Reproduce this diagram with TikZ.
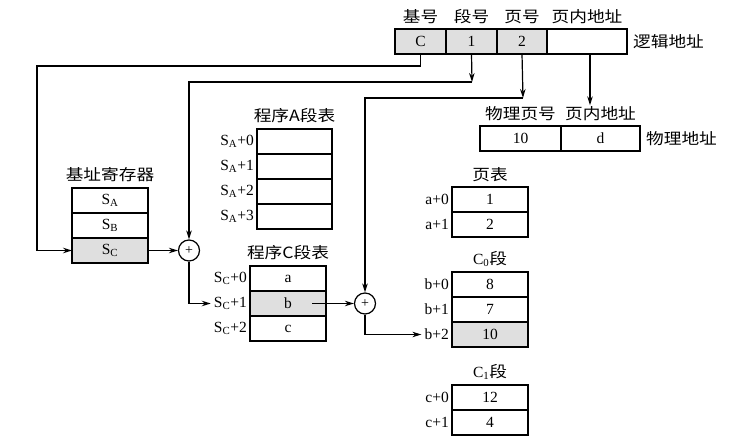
\documentclass[tikz,border=0pt]{standalone}
\usepackage{fontspec}
\setmainfont{Liberation Serif}
\newfontfamily\cjk[FakeStretch=1.14]{Noto Sans CJK SC}
\usetikzlibrary{arrows.meta, positioning}
\tikzset{
  cell/.style = {draw, line width=1.2pt, outer sep=0pt, minimum width=76pt,
                 minimum height=25pt, inner sep=0pt, font=\fontsize{15.5}{15.5}\selectfont},
  grey/.style = {fill=gray!25},
  ttl/.style  = {font=\cjk\fontsize{15.5}{15.5}\selectfont, inner sep=1pt},
  idx/.style  = {font=\fontsize{15.5}{15.5}\selectfont, inner sep=3pt, anchor=east},
  sum/.style  = {draw, circle, line width=1.2pt, minimum size=21pt, inner sep=0pt,
                 font=\fontsize{14}{14}\selectfont},
  fl/.style   = {-{Stealth[length=9pt,width=5.5pt]}, line width=1.2pt},
}
\begin{document}
\begin{tikzpicture}[x=1pt, y=-1pt]
  \useasboundingbox (0,0) rectangle (733,446);
  % logical address
  \node[cell, grey, minimum width=51pt] (lc) at (420.5,41.5) {C};
  \node[cell, grey, minimum width=51pt, right=0pt of lc] (ls) {1};
  \node[cell, grey, minimum width=50pt, right=0pt of ls] (lp) {2};
  \node[cell, minimum width=80pt, right=0pt of lp] (lo) {};
  \node[ttl, above=4pt of lc] (hbase) {基号};
  \node[ttl, above=4pt of ls] (hseg)  {段号};
  \node[ttl, above=4pt of lp] (hpage) {页号};
  \node[ttl, above=4pt of lo] (hoff)  {页内地址};
  \node[ttl, right=5pt of lo] (tlog)  {逻辑地址};
  % base register
  \node[cell] (ra) at (110,200.5) {S\textsubscript{A}};
  \node[cell, below=0pt of ra] (rb) {S\textsubscript{B}};
  \node[cell, grey, below=0pt of rb] (rc) {S\textsubscript{C}};
  \node[ttl, above=5pt of ra] (treg) {基址寄存器};
  % segment table of program A
  \node[cell, minimum width=75pt] (a0) at (294.5,141.5) {};
  \node[cell, minimum width=75pt, below=0pt of a0] (a1) {};
  \node[cell, minimum width=75pt, below=0pt of a1] (a2) {};
  \node[cell, minimum width=75pt, below=0pt of a2] (a3) {};
  \node[ttl, above=5pt of a0] (ta) {程序A段表};
  \node[idx] (ia0) at (a0.west) {S\textsubscript{A}+0};
  \node[idx] (ia1) at (a1.west) {S\textsubscript{A}+1};
  \node[idx] (ia2) at (a2.west) {S\textsubscript{A}+2};
  \node[idx] (ia3) at (a3.west) {S\textsubscript{A}+3};
  % segment table of program C
  \node[cell] (c0) at (288,278.5) {a};
  \node[cell, grey, below=0pt of c0] (c1) {b};
  \node[cell, below=0pt of c1] (c2) {c};
  \node[ttl, above=5pt of c0] (tc) {程序C段表};
  \node[idx] (ic0) at (c0.west) {S\textsubscript{C}+0};
  \node[idx] (ic1) at (c1.west) {S\textsubscript{C}+1};
  \node[idx] (ic2) at (c2.west) {S\textsubscript{C}+2};
  % adders
  \node[sum] (sum1) at (189,250.5) {+};
  \node[sum] (sum2) at (365,303.5) {+};
  % physical address
  \node[cell, minimum width=81pt] (pf) at (520.5,138.5) {10};
  \node[cell, minimum width=79pt, right=0pt of pf] (po) {d};
  \node[ttl, above=4pt of pf] (hpf)  {物理页号};
  \node[ttl, above=4pt of po] (hpo)  {页内地址};
  \node[ttl, right=5pt of po] (tphy) {物理地址};
  % page table
  \node[cell] (p0) at (490,199.5) {1};
  \node[cell, below=0pt of p0] (p1) {2};
  \node[ttl, above=4pt of p0] (tp) {页表};
  \node[idx] (ip0) at (p0.west) {a+0};
  \node[idx] (ip1) at (p1.west) {a+1};
  % segment C0
  \node[cell] (b0) at (490,284.5) {8};
  \node[cell, below=0pt of b0] (b1) {7};
  \node[cell, grey, below=0pt of b1] (b2) {10};
  \node[ttl, above=4pt of b0] (tb) {\rmfamily C\textsubscript{0}\cjk 段};
  \node[idx] (ib0) at (b0.west) {b+0};
  \node[idx] (ib1) at (b1.west) {b+1};
  \node[idx] (ib2) at (b2.west) {b+2};
  % segment C1
  \node[cell] (d0) at (490,397.5) {12};
  \node[cell, below=0pt of d0] (d1) {4};
  \node[ttl, above=4pt of d0] (td) {\rmfamily C\textsubscript{1}\cjk 段};
  \node[idx] (id0) at (d0.west) {c+0};
  \node[idx] (id1) at (d1.west) {c+1};
  % connectors
  \coordinate (ret)     at (37,66);
  \coordinate (segturn) at (472,82);
  \coordinate (pgturn)  at (523,98);
  \draw[fl] (lc.south) |- (ret) |- (rc.west);
  \draw[fl] (rc.east) -- (sum1.west);
  \draw[fl] (ls.south) -- (segturn);
  \draw[fl] (segturn) -| (sum1.north);
  \draw[fl] (sum1.south) |- (ic1.west);
  \draw[fl] (lp.south) -- (pgturn);
  \draw[fl] (pgturn) -| (sum2.north);
  \draw[fl] ([xshift=-14pt]c1.east) -- (sum2.west);
  \draw[fl] (sum2.south) |- (ib2.west);
  \draw[fl] ([xshift=3pt]lo.south) -- ([xshift=3pt]lo.south |- hpo.north);
\end{tikzpicture}
\end{document}
